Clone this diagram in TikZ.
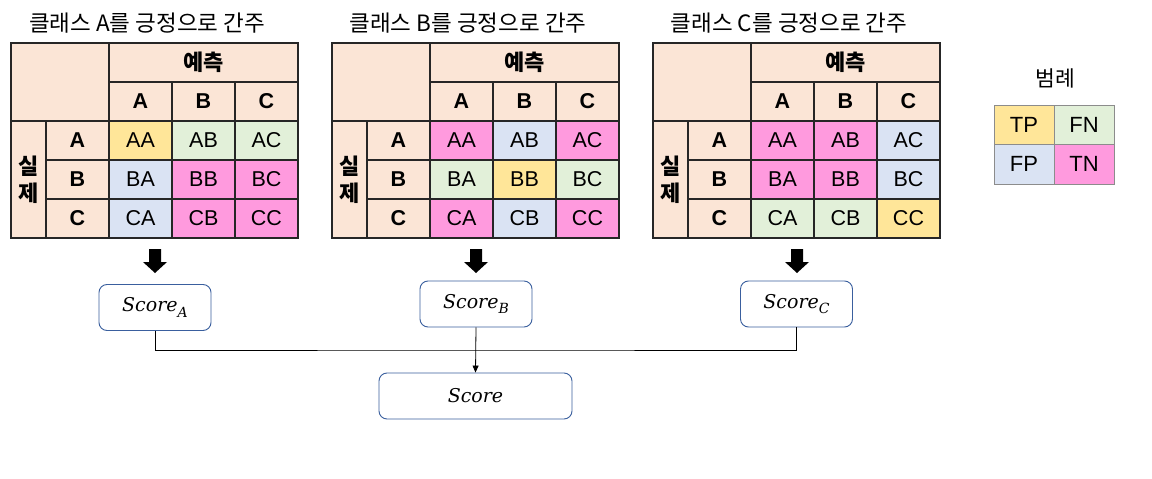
\documentclass[tikz,border=0pt]{standalone}
\usepackage{fontspec}
\newfontfamily\krfont{Noto Sans CJK KR}
\newfontfamily\arialfont{Liberation Sans}
\newfontfamily\scorefont{DejaVu Serif}
\usetikzlibrary{arrows.meta}
\definecolor{peach}{HTML}{FBE5D6}
\definecolor{cy}{HTML}{FFE699}
\definecolor{cg}{HTML}{E2F0D9}
\definecolor{cb}{HTML}{DAE3F3}
\definecolor{cp}{HTML}{FF9ADE}
\definecolor{boxblue}{HTML}{3A5F9E}
\tikzset{
  cell/.style={draw=black!85, line width=1.1pt, inner sep=0pt, minimum width=63pt, minimum height=39pt,
    font=\arialfont\fontsize{21.5}{24}\selectfont, text=black},
  hcell/.style={cell, fill=peach, font=\arialfont\bfseries\fontsize{21.5}{24}\selectfont},
  krhead/.style={cell, fill=peach, font=\krfont\bfseries\fontsize{22}{27}\selectfont, align=center},
  titletext/.style={font=\krfont\fontsize{22.5}{26}\selectfont, inner sep=0pt},
  scorebox/.style={draw=boxblue, line width=0.9pt, rounded corners=8pt, fill=white, inner sep=0pt,
    minimum width=112pt, minimum height=46pt, font=\scorefont\itshape\fontsize{19}{22}\selectfont},
  legcell/.style={draw=black!45, line width=1pt, inner sep=0pt, minimum width=60pt, minimum height=39.5pt,
    font=\arialfont\fontsize{22}{24}\selectfont},
  blockarrow/.style={fill=black},
  link/.style={draw=black, line width=0.8pt}
}
\newcommand\scoretext[1]{Score\raisebox{-0.3em}{\fontsize{14}{14}\selectfont #1}}
% #1 name, #2 left x, #3 title letter, #4 colours
\newcommand\conftable[4]{%
  \begin{scope}[xshift=#2pt]
    \node[titletext] (#1-title) at (136,23) {클래스 #3를 긍정으로 간주};
    \node[cell, fill=peach, minimum width=98pt, minimum height=78pt] (#1-corner) at (49,82) {};
    \node[krhead, minimum width=189pt, minimum height=39pt] (#1-pred) at (192.5,62.5) {예측};
    \node[krhead, minimum width=35pt, minimum height=117pt] (#1-act) at (17.5,179.5) {실\\제};
    \foreach \L [count=\j from 0] in {A,B,C} {
      \node[hcell] (#1-col\L) at (129.5+63*\j,101.5) {\L};
      \node[hcell] (#1-row\L) at (66.5,140.5+39*\j) {\L};
    }
    \foreach \c [count=\k from 0] in {#4} {
      \pgfmathtruncatemacro\ri{int(\k/3)}
      \pgfmathtruncatemacro\ci{mod(\k,3)}
      \pgfmathsetmacro\rl{{"A","B","C"}[\ri]}
      \pgfmathsetmacro\cl{{"A","B","C"}[\ci]}
      \node[cell, fill=\c] (#1-\rl\cl) at (129.5+63*\ci,140.5+39*\ri) {\rl\cl};
    }
    \fill[blockarrow] (138,249) -- (150,249) -- (150,262) -- (156,262) -- (144,273)
       -- (132,262) -- (138,262) -- cycle;
  \end{scope}}
\begin{document}
\begin{tikzpicture}[x=1pt,y=-1pt]
  \useasboundingbox (0,0) rectangle (1152,479);
  \fill[white] (0,0) rectangle (1152,479);
  \conftable{tA}{11}{A}{cy,cg,cg,cb,cp,cp,cb,cp,cp}
  \conftable{tB}{332}{B}{cp,cb,cp,cg,cy,cg,cp,cb,cp}
  \conftable{tC}{653}{C}{cp,cp,cb,cp,cp,cb,cg,cg,cy}

  \node[scorebox] (sA) at (155,307.5) {\scoretext{A}};
  \node[scorebox] (sB) at (476,304) {\scoretext{B}};
  \node[scorebox] (sC) at (796.5,304) {\scoretext{C}};
  \node[scorebox, minimum width=193pt] (sT) at (475.5,396) {Score};

  \coordinate (join) at (476,350);
  \draw[link] (sA.south) |- (join) -| (sC.south);
  \draw[link, -{Triangle[length=7pt,width=6pt]}] (sB.south) -- (sT.north);

  \node[font=\krfont\fontsize{21.5}{24}\selectfont, inner sep=0pt] (legtitle) at (1055,78) {범례};
  \node[legcell, fill=cy] (lTP) at (1024,124.75) {TP};
  \node[legcell, fill=cg] (lFN) at (1084,124.75) {FN};
  \node[legcell, fill=cb] (lFP) at (1024,164.25) {FP};
  \node[legcell, fill=cp] (lTN) at (1084,164.25) {TN};
\end{tikzpicture}
\end{document}
